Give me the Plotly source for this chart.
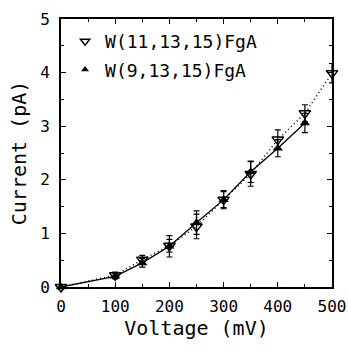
import plotly.graph_objects as go

voltage_open = [0, 100, 150, 200, 250, 300, 350, 400, 450, 500]
current_open = [0.0, 0.22, 0.51, 0.77, 1.13, 1.63, 2.11, 2.75, 3.24, 3.99]
err_open = [0.0, 0.06, 0.08, 0.12, 0.23, 0.17, 0.23, 0.18, 0.16, 0.18]

voltage_fill = [0, 100, 150, 200, 250, 300, 350, 400, 450]
current_fill = [0.0, 0.20, 0.45, 0.76, 1.20, 1.63, 2.15, 2.59, 3.06]
err_fill = [0.0, 0.05, 0.08, 0.2, 0.22, 0.15, 0.2, 0.16, 0.18]

label_open = "W(11,13,15)FgA"
label_fill = "W(9,13,15)FgA"

font_family = "DejaVu Sans Mono, Liberation Mono, monospace"

fig = go.Figure()
fig.add_trace(go.Scatter(
    x=voltage_open, y=current_open, name=label_open, mode="lines+markers",
    line=dict(color="black", width=1.5, dash="1px,3px"),
    marker=dict(symbol="triangle-down-open", size=10, color="black", line=dict(width=1.5)),
    error_y=dict(type="data", array=err_open, color="black", thickness=1.2, width=3),
    cliponaxis=False, showlegend=False,
))
fig.add_trace(go.Scatter(
    x=voltage_fill, y=current_fill, name=label_fill, mode="lines+markers",
    line=dict(color="black", width=1.3),
    marker=dict(symbol="triangle-up", size=9, color="black"),
    error_y=dict(type="data", array=err_fill, color="black", thickness=1.2, width=3),
    cliponaxis=False, showlegend=False,
))
# legend entries (markers only, as in the reference)
fig.add_trace(go.Scatter(
    x=[None], y=[None], name=label_open, mode="markers", legendgroup="a",
    marker=dict(symbol="triangle-down-open", size=8, color="black", line=dict(width=1.5)),
))
fig.add_trace(go.Scatter(
    x=[None], y=[None], name=label_fill, mode="markers", legendgroup="b",
    marker=dict(symbol="triangle-up", size=7, color="black"),
))

axis_common = dict(
    showgrid=False, zeroline=False, showline=True, linecolor="black", linewidth=2,
    mirror="ticks", ticks="inside", tickcolor="black", ticklen=5, tickwidth=1.2,
    tickfont=dict(family=font_family, size=16, color="black"), automargin=False,
)
fig.update_layout(
    width=348, height=346,
    margin=dict(l=61, r=16, t=19, b=59),
    plot_bgcolor="white", paper_bgcolor="white",
    showlegend=True,
    legend=dict(x=0.015, y=0.985, xanchor="left", yanchor="top",
                bgcolor="rgba(0,0,0,0)", font=dict(family=font_family, size=18, color="black"),
                itemwidth=30, tracegroupgap=2),
    xaxis=dict(range=[0, 500], tickvals=[0, 100, 200, 300, 400, 500],
               minor=dict(tickvals=[50, 150, 250, 350, 450], ticks="inside", ticklen=3, tickcolor="black"),
               title=dict(text="Voltage (mV)", font=dict(family=font_family, size=20, color="black"), standoff=6),
               ticklabelstandoff=4,
               **axis_common),
    yaxis=dict(range=[0, 5], tickvals=[0, 1, 2, 3, 4, 5],
               minor=dict(tickvals=[0.5, 1.5, 2.5, 3.5, 4.5], ticks="inside", ticklen=3, tickcolor="black"),
               title=dict(text="Current (pA)", font=dict(family=font_family, size=20, color="black"), standoff=8),
               ticklabelstandoff=6,
               **axis_common),
)
fig.write_html(
    "out.html",
    config={"displayModeBar": False},
    post_script="document.body.style.margin='0px';document.body.style.overflow='hidden';",
)
